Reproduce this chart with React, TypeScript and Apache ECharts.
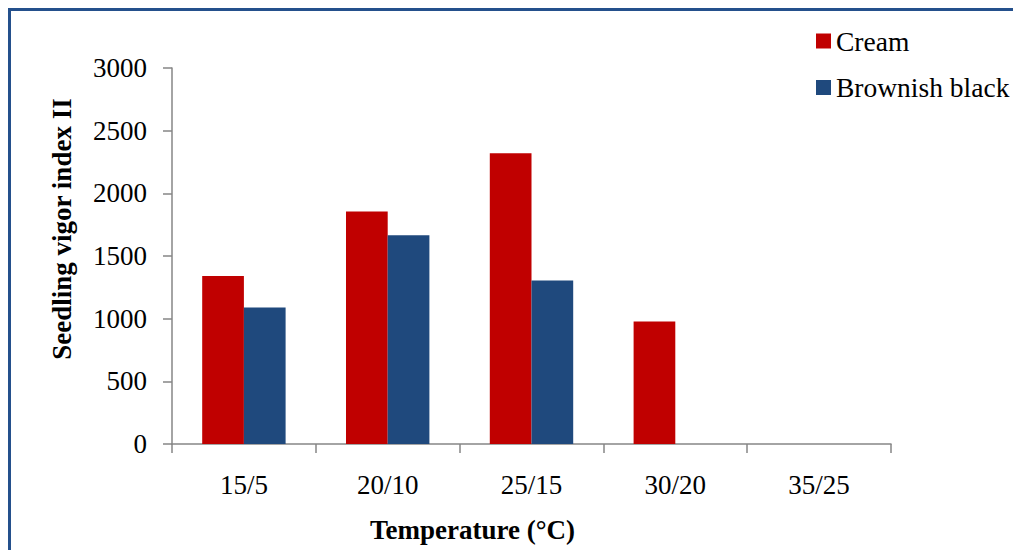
import React, { useEffect, useRef } from "react";
import * as echarts from "echarts";

const categories = ["15/5", "20/10", "25/15", "30/20", "35/25"];
const creamValues = [1340, 1855, 2320, 977, 0];
const brownishBlackValues = [1090, 1665, 1305, 0, 0];
const seriesNames = ["Cream", "Brownish black"];
const seriesColors = ["#C00000", "#1F497D"];
const yTicks = { min: 0, max: 3000, interval: 500 };

const FONT = "Liberation Serif";

export default function App() {
  const ref = useRef<HTMLDivElement>(null);
  useEffect(() => {
    if (!ref.current) return;
    const chart = echarts.init(ref.current, null, { renderer: "svg" });
    chart.setOption({
      animation: false,
      backgroundColor: "#ffffff",
      textStyle: { fontFamily: FONT, color: "#000" },
      graphic: [
        {
          type: "rect",
          shape: { x: 9.5, y: 9.5, width: 1100, height: 700 },
          style: { fill: "none", stroke: "#24508C", lineWidth: 3 },
          silent: true,
        },
      ],
      legend: {
        orient: "vertical",
        left: 811,
        top: 22,
        itemWidth: 15,
        itemHeight: 15,
        itemGap: 18.5,
        icon: "rect",
        textStyle: { fontFamily: FONT, fontSize: 27.5, color: "#000" },
        data: seriesNames,
      },
      grid: { left: 172, right: 122, top: 68, bottom: 106, containLabel: false },
      xAxis: {
        type: "category",
        data: categories,
        name: "Temperature (°C)",
        nameLocation: "middle",
        nameGap: 72,
        nameTextStyle: {
          fontFamily: FONT,
          fontSize: 27,
          fontWeight: "bold",
          color: "#000",
          padding: [0, 118, 0, 0],
        },
        axisLine: { lineStyle: { color: "#868686", width: 1.5 } },
        axisTick: { show: true, length: 9, lineStyle: { color: "#868686", width: 1.5 } },
        axisLabel: { fontFamily: FONT, fontSize: 27, color: "#000", margin: 27 },
        splitLine: { show: false },
      },
      yAxis: {
        type: "value",
        min: yTicks.min,
        max: yTicks.max,
        interval: yTicks.interval,
        name: "Seedling vigor index II",
        nameLocation: "middle",
        nameGap: 97,
        nameTextStyle: {
          fontFamily: FONT,
          fontSize: 27,
          fontWeight: "bold",
          color: "#000",
          padding: [0, 0, 0, 54],
        },
        axisLine: { show: true, lineStyle: { color: "#868686", width: 1.5 } },
        axisTick: { show: true, length: 9, lineStyle: { color: "#868686", width: 1.5 } },
        axisLabel: {
          fontFamily: FONT,
          fontSize: 27,
          color: "#000",
          margin: 25,
          formatter: (v: number) => String(v),
        },
        splitLine: { show: false },
      },
      series: [
        {
          name: seriesNames[0],
          type: "bar",
          data: creamValues,
          itemStyle: { color: seriesColors[0] },
          barGap: "0%",
          barCategoryGap: "42%",
        },
        {
          name: seriesNames[1],
          type: "bar",
          data: brownishBlackValues,
          itemStyle: { color: seriesColors[1] },
          barGap: "0%",
          barCategoryGap: "42%",
        },
      ],
    });
    return () => chart.dispose();
  }, []);
  return (
    <div
      ref={ref}
      style={{ position: "fixed", left: 0, top: 0, width: 1013, height: 550 }}
    />
  );
}
